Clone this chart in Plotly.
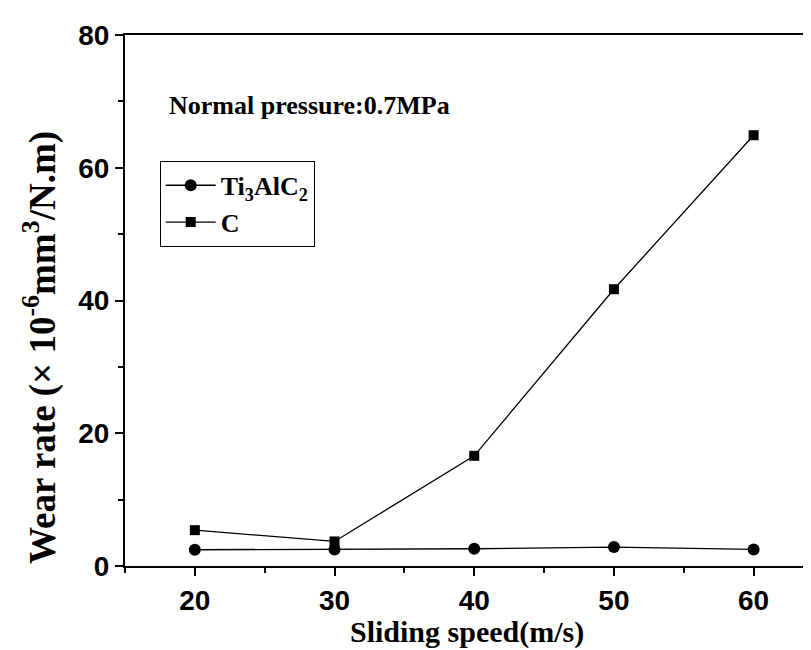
import plotly.graph_objects as go

speed = [20, 30, 40, 50, 60]
ti3alc2 = [2.45, 2.5, 2.6, 2.85, 2.5]
carbon = [5.4, 3.7, 16.6, 41.7, 64.9]
x_ticks = [20, 30, 40, 50, 60]
y_ticks = [0, 20, 40, 60, 80]

serif = "Liberation Serif, Times New Roman, serif"
sans = "Liberation Sans, Arial, sans-serif"

fig = go.Figure()
fig.add_trace(go.Scatter(x=speed, y=ti3alc2, mode="lines+markers", name="<b>Ti<sub>3</sub>AlC<sub>2</sub></b>",
                         line=dict(color="black", width=1.3),
                         marker=dict(symbol="circle", size=12, color="black")))
fig.add_trace(go.Scatter(x=speed, y=carbon, mode="lines+markers", name="<b>C</b>",
                         line=dict(color="black", width=1.3),
                         marker=dict(symbol="square", size=10, color="black")))

fig.update_layout(
    width=811, height=650,
    margin=dict(l=117, r=0, t=27, b=92),
    paper_bgcolor="white", plot_bgcolor="white",
    showlegend=True,
    legend=dict(x=0.05, y=0.763, xanchor="left", yanchor="top",
                bordercolor="black", borderwidth=1, bgcolor="white",
                font=dict(family=serif, size=26, color="black"),
                itemwidth=50, tracegroupgap=0),
    xaxis=dict(range=[15, 64.68], tickvals=x_ticks, ticks="outside", ticklen=8, tickwidth=1.5,
               showline=True, linecolor="black", linewidth=2, mirror=True, showgrid=False, zeroline=False,
               automargin=False,
               tickfont=dict(family=sans, size=28, color="black", weight="bold"),
               minor=dict(dtick=5, tick0=15, ticks="outside", ticklen=5, tickcolor="black", showgrid=False),
               tickcolor="black"),
    yaxis=dict(range=[0, 80], tickvals=y_ticks, ticks="outside", ticklen=8, tickwidth=1.5,
               showline=True, linecolor="black", linewidth=2, mirror=False, showgrid=False, zeroline=False,
               automargin=False,
               tickfont=dict(family=sans, size=28, color="black", weight="bold"),
               minor=dict(dtick=10, ticks="outside", ticklen=5, tickcolor="black", showgrid=False),
               tickcolor="black"),
    annotations=[
        dict(text="<b>Normal pressure:0.7MPa</b>", xref="paper", yref="paper", x=(159 - 117) / 694, y=(558 - 98) / 531,
             xanchor="left", yanchor="middle", showarrow=False,
             font=dict(family=serif, size=26, color="black")),
        dict(text="<b>Wear rate (× 10<sup>-6</sup>mm<sup>3</sup>/N.m)</b>", xref="paper", yref="paper",
             x=(32 - 117) / 694, y=(558 - 340) / 531, xanchor="center", yanchor="middle", textangle=-90,
             showarrow=False, font=dict(family=serif, size=37, color="black")),
        dict(text="<b>Sliding speed(m/s)</b>", xref="paper", yref="paper",
             x=(459 - 117) / 694, y=(558 - 624) / 531, xanchor="center", yanchor="middle",
             showarrow=False, font=dict(family=serif, size=30, color="black")),
    ],
)

fig.write_html("out.html")
